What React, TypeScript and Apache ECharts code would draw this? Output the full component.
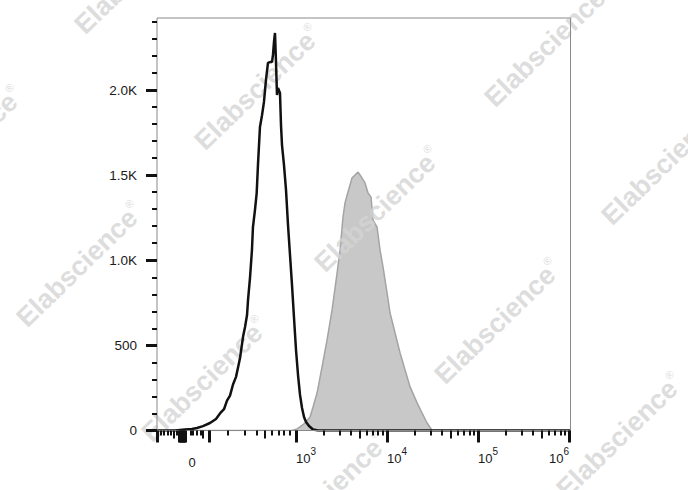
import React, { useEffect, useRef } from 'react';
import * as echarts from 'echarts';

// Display coordinate on the x axis: decades of the biexponential scale (3 = 10^3 ...)
const blackX = [1.473, 1.67, 1.78, 1.857, 1.912, 1.978, 2.055, 2.121, 2.165, 2.209, 2.242, 2.275, 2.308, 2.341, 2.363, 2.385, 2.418, 2.44, 2.462, 2.473, 2.495, 2.516, 2.527, 2.549, 2.568, 2.582, 2.604, 2.626, 2.648, 2.67, 2.692, 2.714, 2.736, 2.747, 2.758, 2.769, 2.78, 2.791, 2.802, 2.824, 2.835, 2.846, 2.868, 2.89, 2.912, 2.934, 2.956, 2.978, 3.0, 3.022, 3.044, 3.066, 3.088, 3.11, 3.143, 3.187, 3.242, 6.015];
const blackY = [0, 0, 6, 9, 15, 26, 44, 68, 100, 125, 175, 205, 270, 315, 370, 426, 550, 608, 678, 767, 900, 1060, 1195, 1295, 1395, 1559, 1783, 1850, 1930, 2059, 2159, 2164, 2164, 2206, 2282, 2335, 2164, 1971, 2012, 1982, 1794, 1677, 1559, 1413, 1207, 1031, 854, 661, 473, 326, 209, 132, 79, 50, 26, 6, 0, 0];

const greyX = [1.473, 2.956, 3.011, 3.044, 3.099, 3.154, 3.187, 3.231, 3.286, 3.341, 3.396, 3.451, 3.484, 3.516, 3.538, 3.571, 3.615, 3.648, 3.681, 3.703, 3.725, 3.758, 3.791, 3.824, 3.846, 3.89, 3.923, 3.956, 4.0, 4.033, 4.088, 4.143, 4.198, 4.253, 4.33, 4.385, 4.44, 4.495, 6.015];
const greyY = [0, 0, 9, 21, 44, 79, 138, 220, 373, 532, 708, 925, 1060, 1254, 1336, 1401, 1483, 1501, 1518, 1501, 1483, 1454, 1395, 1371, 1236, 1195, 1060, 960, 808, 690, 573, 455, 355, 256, 162, 103, 44, 0, 0];

const yTickValues = [0, 500, 1000, 1500, 2000];
const yTickLabels = ['0', '500', '1.0K', '1.5K', '2.0K'];
const yMinorTicks = [100, 200, 300, 400, 600, 700, 800, 900, 1100, 1200, 1300, 1400, 1600, 1700, 1800, 1900, 2100, 2200, 2300, 2400];

const xLabelValues = [1.86, 3, 4, 5, 6];
const xLabelBases = ['0', '10', '10', '10', '10'];
const xLabelExps = ['', '3', '4', '5', '6'];

const xTallTicks = [1.473, 1.72, 1.73, 1.74, 1.75, 1.76, 1.77, 1.78, 2.05, 3, 4, 5, 6];
const xMidTicks = [1.66, 1.98, 2.66, 3.699, 4.699, 5.699];
const xShortTicks = [1.51, 1.55, 1.59, 1.62, 1.69, 1.84, 1.87, 1.91, 1.95, 2.25, 2.44, 2.57, 2.73, 2.81, 2.86, 2.93,
  3.301, 3.477, 3.602, 3.778, 3.845, 3.903, 3.954,
  4.301, 4.477, 4.602, 4.778, 4.845, 4.903, 4.954,
  5.301, 5.477, 5.602, 5.778, 5.845, 5.903, 5.954];

const watermarkCenters = [
  [138, -28], [258, 88], [378, 210], [498, 322], [620, 436],
  [428, -71], [548, 45], [665, 163],
  [-40, 149], [80, 265], [205, 380], [325, 495],
];

const X_MIN = 1.473;
const X_MAX = 6.015;
const Y_MAX = 2423;
const FONT = '"Liberation Sans", Arial, sans-serif';
const WM = 'rgba(212,212,212,0.8)';

function labelIndex(v: number) {
  for (let i = 0; i < xLabelValues.length; i++) {
    if (Math.abs(xLabelValues[i] - v) < 1e-6) return i;
  }
  return -1;
}

function xLabelFormatter(v: number) {
  const i = labelIndex(v);
  if (i < 0) return '';
  if (!xLabelExps[i]) return xLabelBases[i];
  return `{b|${xLabelBases[i]}}{s|${xLabelExps[i]}}`;
}

const richX = {
  b: { fontSize: 13, lineHeight: 13, padding: [11, 0, 0, 0], fontFamily: FONT, color: '#1a1a1a' },
  s: { fontSize: 10, lineHeight: 10, verticalAlign: 'top', fontFamily: FONT, color: '#1a1a1a' },
};

function baseX(extra: any) {
  return {
    type: 'value',
    min: X_MIN,
    max: X_MAX,
    position: 'bottom',
    z: 4,
    axisLine: { show: false, onZero: false },
    splitLine: { show: false },
    ...extra,
  };
}

export default function App() {
  const ref = useRef<HTMLDivElement>(null);
  useEffect(() => {
    if (!ref.current) return;
    const chart = echarts.init(ref.current, undefined, { renderer: 'svg' });
    const option: any = {
      animation: false,
      backgroundColor: '#ffffff',
      grid: {
        left: 157, right: 117.5, top: 18, bottom: 59.5,
        show: true, borderColor: '#8a8a8a', borderWidth: 1, backgroundColor: 'transparent', z: 4,
      },
      xAxis: [
        baseX({
          axisTick: { show: true, customValues: xTallTicks, length: 12, lineStyle: { color: '#111', width: 3 } },
          axisLabel: {
            show: true, customValues: [3, 4, 5], align: 'left', margin: 16,
            formatter: xLabelFormatter, rich: richX, fontFamily: FONT, color: '#1a1a1a',
          },
        }),
        baseX({
          axisTick: { show: true, customValues: xMidTicks, length: 8, lineStyle: { color: '#111', width: 2 } },
          axisLabel: {
            show: true, customValues: [1.86], align: 'center', margin: 25,
            formatter: xLabelFormatter, fontSize: 13, lineHeight: 13, fontFamily: FONT, color: '#1a1a1a',
          },
        }),
        baseX({
          axisTick: { show: true, customValues: xShortTicks, length: 5, lineStyle: { color: '#111', width: 2 } },
          axisLabel: {
            show: true, customValues: [6], align: 'right', margin: 16,
            formatter: xLabelFormatter, rich: richX, fontFamily: FONT, color: '#1a1a1a',
          },
        }),
      ],
      yAxis: [
        {
          type: 'value', min: 0, max: Y_MAX, position: 'left', z: 4,
          axisLine: { show: false },
          splitLine: { show: false },
          axisTick: { show: true, customValues: yTickValues, length: 11, lineStyle: { color: '#111', width: 3 } },
          axisLabel: {
            show: true, customValues: yTickValues, margin: 20, fontSize: 13.5, fontFamily: FONT, color: '#1a1a1a',
            formatter: (v: number) => {
              const i = yTickValues.indexOf(v);
              return i >= 0 ? yTickLabels[i] : '';
            },
          },
        },
        {
          type: 'value', min: 0, max: Y_MAX, position: 'left', z: 4,
          axisLine: { show: false },
          splitLine: { show: false },
          axisTick: { show: true, customValues: yMinorTicks, length: 5, lineStyle: { color: '#111', width: 2 } },
          axisLabel: { show: false },
        },
      ],
      graphic: watermarkCenters.map(([x, y]) => ({
        type: 'text',
        x, y,
        rotation: 0.77,
        z: 2,
        silent: true,
        style: {
          text: '{m|Elabscience}{r|®}',
          align: 'center',
          verticalAlign: 'middle',
          fill: WM,
          rich: {
            m: { fontSize: 27, fontWeight: 'bold', fontFamily: FONT, fill: WM, lineHeight: 30 },
            r: { fontSize: 11, fontFamily: FONT, fill: WM, lineHeight: 12, verticalAlign: 'top' },
          },
        },
      })),
      series: [
        {
          type: 'line',
          name: 'stained',
          xAxisIndex: 0, yAxisIndex: 0,
          z: 1,
          data: greyX.map((x, i) => [x, greyY[i]]),
          showSymbol: false,
          symbol: 'none',
          lineStyle: { color: '#a4a4a4', width: 1.5 },
          areaStyle: { color: '#c8c8c8', opacity: 1 },
        },
        {
          type: 'line',
          name: 'control',
          xAxisIndex: 0, yAxisIndex: 0,
          z: 3,
          data: blackX.map((x, i) => [x, blackY[i]]),
          showSymbol: false,
          symbol: 'none',
          lineStyle: { color: '#111111', width: 2.5 },
        },
      ],
    };
    chart.setOption(option);
    return () => chart.dispose();
  }, []);
  return (
    <div
      ref={ref}
      style={{ position: 'fixed', left: 0, top: 0, width: 688, height: 490, background: '#fff' }}
    />
  );
}
